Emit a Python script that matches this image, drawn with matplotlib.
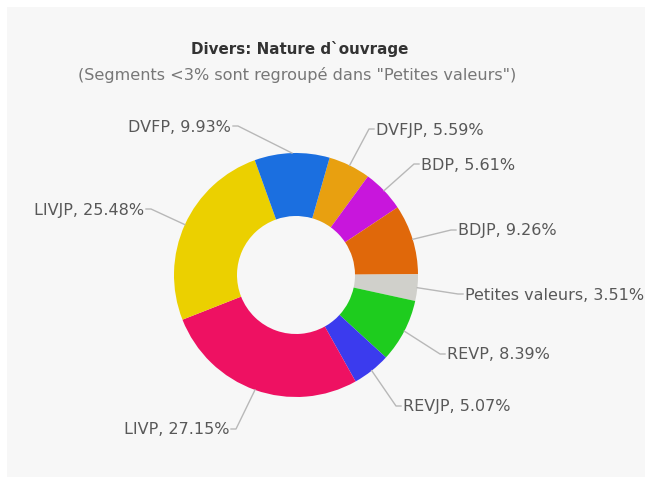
import matplotlib
matplotlib.use('Agg')
import matplotlib.pyplot as plt
import numpy as np
from matplotlib.patches import Rectangle

# ---- data ----
labels = ['DVFJP', 'BDP', 'BDJP', 'Petites valeurs', 'REVP', 'REVJP', 'LIVP', 'LIVJP', 'DVFP']
values = [5.59, 5.61, 9.26, 3.51, 8.39, 5.07, 27.15, 25.48, 9.93]
colors = ['#e8a010', '#c816dc', '#e0680a', '#d0d0cb', '#1ecc1e', '#3b3bee', '#ee1162', '#ebd000', '#1b6fe0']
title = "Divers: Nature d`ouvrage"
subtitle = '(Segments <3% sont regroupé dans "Petites valeurs")'

# ---- layout (pixel coords, y down) ----
label_layout = [(376, 130, 'left'), (421, 165, 'left'), (458, 231, 'left'),
                (465, 295, 'left'), (447, 355, 'left'), (403, 407, 'left'),
                (229, 430, 'right'), (144, 210, 'right'), (231, 127, 'right')]

W, H = 650, 481
fig = plt.figure(figsize=(6.5, 4.81), dpi=100)
fig.patch.set_facecolor('white')
fig.patches.append(Rectangle((7 / W, (H - 478) / H), (645 - 7) / W, (478 - 8) / H,
                             transform=fig.transFigure, facecolor='#f7f7f7',
                             edgecolor='none', zorder=-5))
ax = fig.add_axes([0, 0, 1, 1])
ax.patch.set_alpha(0)

cx, cy, R, Rin = 296, H - 276, 122, 59
wedges, _ = ax.pie(values, colors=colors, startangle=74, counterclock=False,
                   center=(cx, cy), radius=R,
                   wedgeprops=dict(width=R - Rin, edgecolor='none'), frame=True)
ax.set_xlim(0, W)
ax.set_ylim(0, H)
ax.set_aspect('equal')
ax.axis('off')

for w, lab, val, (tx, ty, ha) in zip(wedges, labels, values, label_layout):
    mid = np.deg2rad((w.theta1 + w.theta2) / 2)
    ex, ey = cx + R * np.cos(mid), cy + R * np.sin(mid)
    ty_d = H - ty
    off = -7 if ha == 'left' else 7
    gap = -2 if ha == 'left' else 2
    ax.plot([ex, tx + off, tx + gap], [ey, ty_d, ty_d], color='#b8b8b8', lw=1, zorder=1)
    ax.text(tx, ty_d, f'{lab}, {val:.2f}%', ha=ha, va='center', fontsize=11.5,
            color='#585858')

fig.text(300 / W, 1 - 49 / H, title, ha='center', va='center', fontsize=10.9,
         fontweight='bold', color='#333333')
fig.text(297 / W, 1 - 75 / H, subtitle, ha='center', va='center', fontsize=11.6,
         color='#777777')

fig.savefig('out.png', dpi=100, facecolor=fig.get_facecolor())
